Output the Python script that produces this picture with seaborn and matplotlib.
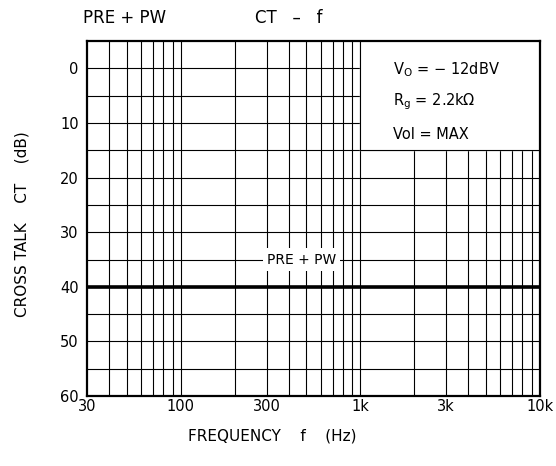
import numpy as np
import matplotlib.pyplot as plt
import seaborn as sns
import pandas as pd

# data
freq = [30, 10000]
crosstalk = [40, 40]
xticks = [30, 100, 300, 1000, 3000, 10000]
xticklabels = ['30', '100', '300', '1k', '3k', '10k']
yticks = [0, 10, 20, 30, 40, 50, 60]
conditions = ['V$_\\mathregular{O}$ = \u2212 12dBV', 'R$_\\mathregular{g}$ = 2.2k\u03a9', 'Vol = MAX']

sns.set_style('white')
plt.rcParams['font.family'] = ['DejaVu Sans']
plt.rcParams['text.color'] = 'black'
plt.rcParams['xtick.color'] = 'black'
plt.rcParams['ytick.color'] = 'black'

fig = plt.figure(figsize=(5.56, 4.66), dpi=100)
ax = fig.add_axes([0.1565, 0.150, 0.8145, 0.762])

df = pd.DataFrame({'f': freq, 'ct': crosstalk})
sns.lineplot(data=df, x='f', y='ct', ax=ax, color='black', linewidth=2.6, zorder=5)

ax.set_xscale('log')
ax.set_xlim(30, 10000)
ax.set_ylim(60, -5)

# grid lines
vlines = [f for dec in [10, 100, 1000] for f in np.arange(1, 10) * dec if 30 < f < 10000]
for v in vlines:
    ax.axvline(v, color='black', lw=0.8, zorder=1)
for h in np.arange(0, 60, 5):
    ax.axhline(h, color='black', lw=0.8, zorder=1)

# condition box, top right
ax.fill_between([1000, 10000], -5, 15, color='white', zorder=3)
ax.plot([1000, 1000, 10000], [-5, 15, 15], color='black', lw=0.8, zorder=4)
for i, t in enumerate(conditions):
    ax.text(0.675, 0.918 - i * 0.09, t, transform=ax.transAxes, fontsize=10.5,
            va='center', ha='left', zorder=6)

ax.text(470, 35, 'PRE + PW', fontsize=10, ha='center', va='center', zorder=6,
        bbox=dict(facecolor='white', edgecolor='none', pad=3))

ax.set_xticks(xticks)
ax.set_xticklabels(xticklabels, fontsize=10.5)
ax.xaxis.set_minor_locator(plt.NullLocator())
ax.set_yticks(yticks)
ax.set_yticklabels([str(t) for t in yticks], fontsize=10.5)
ax.tick_params(axis='both', length=0, pad=2)
ax.tick_params(axis='y', pad=6)

for s in ax.spines.values():
    s.set_color('black')
    s.set_linewidth(1.6)
    s.set_zorder(10)

ax.set_xlabel('')
ax.set_ylabel('')
fig.text(272 / 556, 1 - 436 / 466, 'FREQUENCY    f    (Hz)', fontsize=11, ha='center', va='center')
fig.text(22 / 556, 1 - 224 / 466, 'CROSS TALK    CT    (dB)', fontsize=11, ha='center', va='center',
         rotation=90)

fig.text(0.15, 0.962, 'PRE + PW', fontsize=12, ha='left', va='center')
fig.text(0.458, 0.962, 'CT   \u2013   f', fontsize=12, ha='left', va='center')

fig.savefig('out.png', dpi=100)
